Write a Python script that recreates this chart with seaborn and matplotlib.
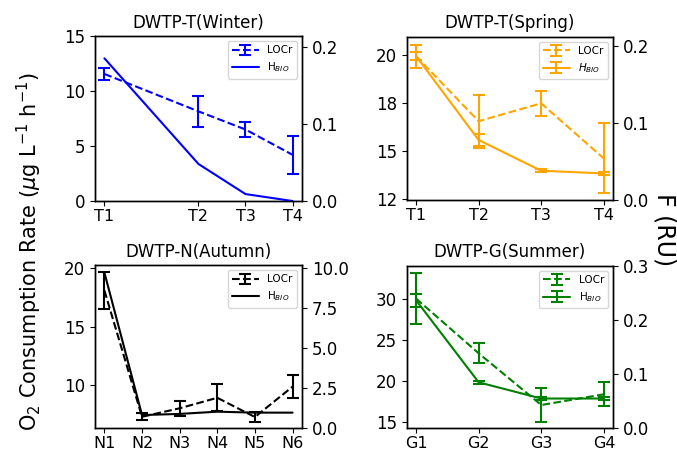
import matplotlib
matplotlib.use("Agg")
import matplotlib.pyplot as plt
import seaborn as sns
import pandas as pd
import numpy as np
from matplotlib.ticker import FuncFormatter

sns.set_style("ticks")
plt.rcParams['font.family'] = ['DejaVu Sans']
plt.rcParams.update({
    'axes.edgecolor': 'black', 'xtick.color': 'black', 'ytick.color': 'black',
    'text.color': 'black', 'axes.labelcolor': 'black', 'axes.linewidth': 1.0,
})

# ---------------- data ----------------
winter_labels = ["T1", "T2", "T3", "T4"]
winter_x = [0, 2, 3, 4]
winter_locr = [11.55, 8.15, 6.5, 4.2]
winter_locr_err = [0.55, 1.38, 0.65, 1.75]
winter_hbio = [0.185, 0.048, 0.009, 0.0]

spring_labels = ["T1", "T2", "T3", "T4"]
spring_x = [1, 2, 3, 4]
spring_locr = [19.93, 16.55, 17.48, 14.62]
spring_locr_err = [0.59, 1.38, 0.65, 1.82]
spring_hbio = [0.187, 0.078, 0.038, 0.0345]
spring_hbio_err = [0.005, 0.008, 0.002, 0.002]

autumn_labels = ["N1", "N2", "N3", "N4", "N5", "N6"]
autumn_x = [1, 2, 3, 4, 5, 6]
autumn_locr = [18.1, 7.27, 8.0, 8.9, 7.25, 9.85]
autumn_locr_err = [1.57, 0.3, 0.65, 1.17, 0.39, 1.0]
autumn_hbio = [9.7, 0.79, 0.86, 1.0, 0.94, 0.94]

summer_labels = ["G1", "G2", "G3", "G4"]
summer_x = [1, 2, 3, 4]
summer_locr = [30.05, 23.36, 17.04, 18.35]
summer_locr_err = [3.15, 1.22, 2.06, 1.47]
summer_hbio = [0.236, 0.084, 0.054, 0.054]
summer_hbio_err = [0.012, 0.003, 0.003, 0.003]

fig = plt.figure(figsize=(6.77, 4.5), dpi=100)


def panel(rect, title, x, labels, locr, locr_err, hbio, hbio_err, color,
          ylim_l, yticks_l, ylim_r, yticks_r, hlabel, fmt_l, fmt_r):
    ax = fig.add_axes(rect)
    ax2 = ax.twinx()
    df = pd.DataFrame({'x': x, 'LOCr': locr, 'HBIO': hbio})
    sns.lineplot(data=df, x='x', y='LOCr', ax=ax, color=color, linestyle='--', lw=1.5)
    l1 = ax.lines[-1]
    c1 = ax.errorbar(x, locr, yerr=locr_err, fmt='none', ecolor=color,
                     capsize=4, elinewidth=1.5, capthick=1.5)
    sns.lineplot(data=df, x='x', y='HBIO', ax=ax2, color=color, lw=1.5)
    l2 = ax2.lines[-1]
    h2 = l2
    if hbio_err is not None:
        c2 = ax2.errorbar(x, hbio, yerr=hbio_err, fmt='none', ecolor=color,
                          capsize=4, elinewidth=1.5, capthick=1.5)
        h2 = (l2, c2)
    ax.set_xticks(x, labels)
    ax.set_ylim(*ylim_l)
    ax.set_yticks(yticks_l)
    ax.yaxis.set_major_formatter(FuncFormatter(lambda v, p: fmt_l.format(v)))
    ax2.set_ylim(*ylim_r)
    ax2.set_yticks(yticks_r)
    ax2.yaxis.set_major_formatter(FuncFormatter(lambda v, p: fmt_r.format(v)))
    for a in (ax, ax2):
        a.set_xlabel("")
        a.set_ylabel("")
        a.tick_params(axis='y', labelsize=12)
        a.tick_params(axis='x', labelsize=11.5, pad=2.5)
        for s in a.spines.values():
            s.set_visible(True)
    ax.set_title(title, fontsize=12)
    ax2.legend(handles=[(l1, c1), h2], labels=["LOCr", hlabel], loc='upper right',
               fontsize=7.5, handlelength=2.6)
    return ax, ax2


panel([0.1403, 0.5533, 0.3057, 0.3667], "DWTP-T(Winter)", winter_x, winter_labels,
      winter_locr, winter_locr_err, winter_hbio, None, 'blue',
      (0, 15), [0, 5, 10, 15], (0, 0.2139), [0, 0.1, 0.2], r"H$_{BIO}$", "{:.0f}", "{:.1f}")

panel([0.6007, 0.5556, 0.3048, 0.3630], "DWTP-T(Spring)", spring_x, spring_labels,
      spring_locr, spring_locr_err, spring_hbio, spring_hbio_err, 'orange',
      (12.45, 20.95), [12.5, 15, 17.5, 20], (0, 0.2122), [0, 0.1, 0.2], r"$H_{BIO}$", "{:.0f}", "{:.1f}")

panel([0.1403, 0.0489, 0.3057, 0.3622], "DWTP-N(Autumn)", autumn_x, autumn_labels,
      autumn_locr, autumn_locr_err, autumn_hbio, None, 'black',
      (6.31, 20.28), [10, 15, 20], (-0.02, 10.17), [0, 2.5, 5, 7.5, 10], r"H$_{BIO}$", "{:.0f}", "{:.1f}")

panel([0.6007, 0.0496, 0.3052, 0.3600], "DWTP-G(Summer)", summer_x, summer_labels,
      summer_locr, summer_locr_err, summer_hbio, summer_hbio_err, 'green',
      (14.27, 34.07), [15, 20, 25, 30], (0, 0.3), [0, 0.1, 0.2, 0.3], r"H$_{BIO}$", "{:.0f}", "{:.1f}")

fig.text(0.043, 0.44, r"O$_2$ Consumption Rate ($\mu$g L$^{-1}$ h$^{-1}$)",
         rotation=90, va='center', ha='center', fontsize=15)
fig.text(0.982, 0.489, "F (RU)", rotation=270, va='center', ha='center', fontsize=17)

fig.savefig("out.png", dpi=100)
